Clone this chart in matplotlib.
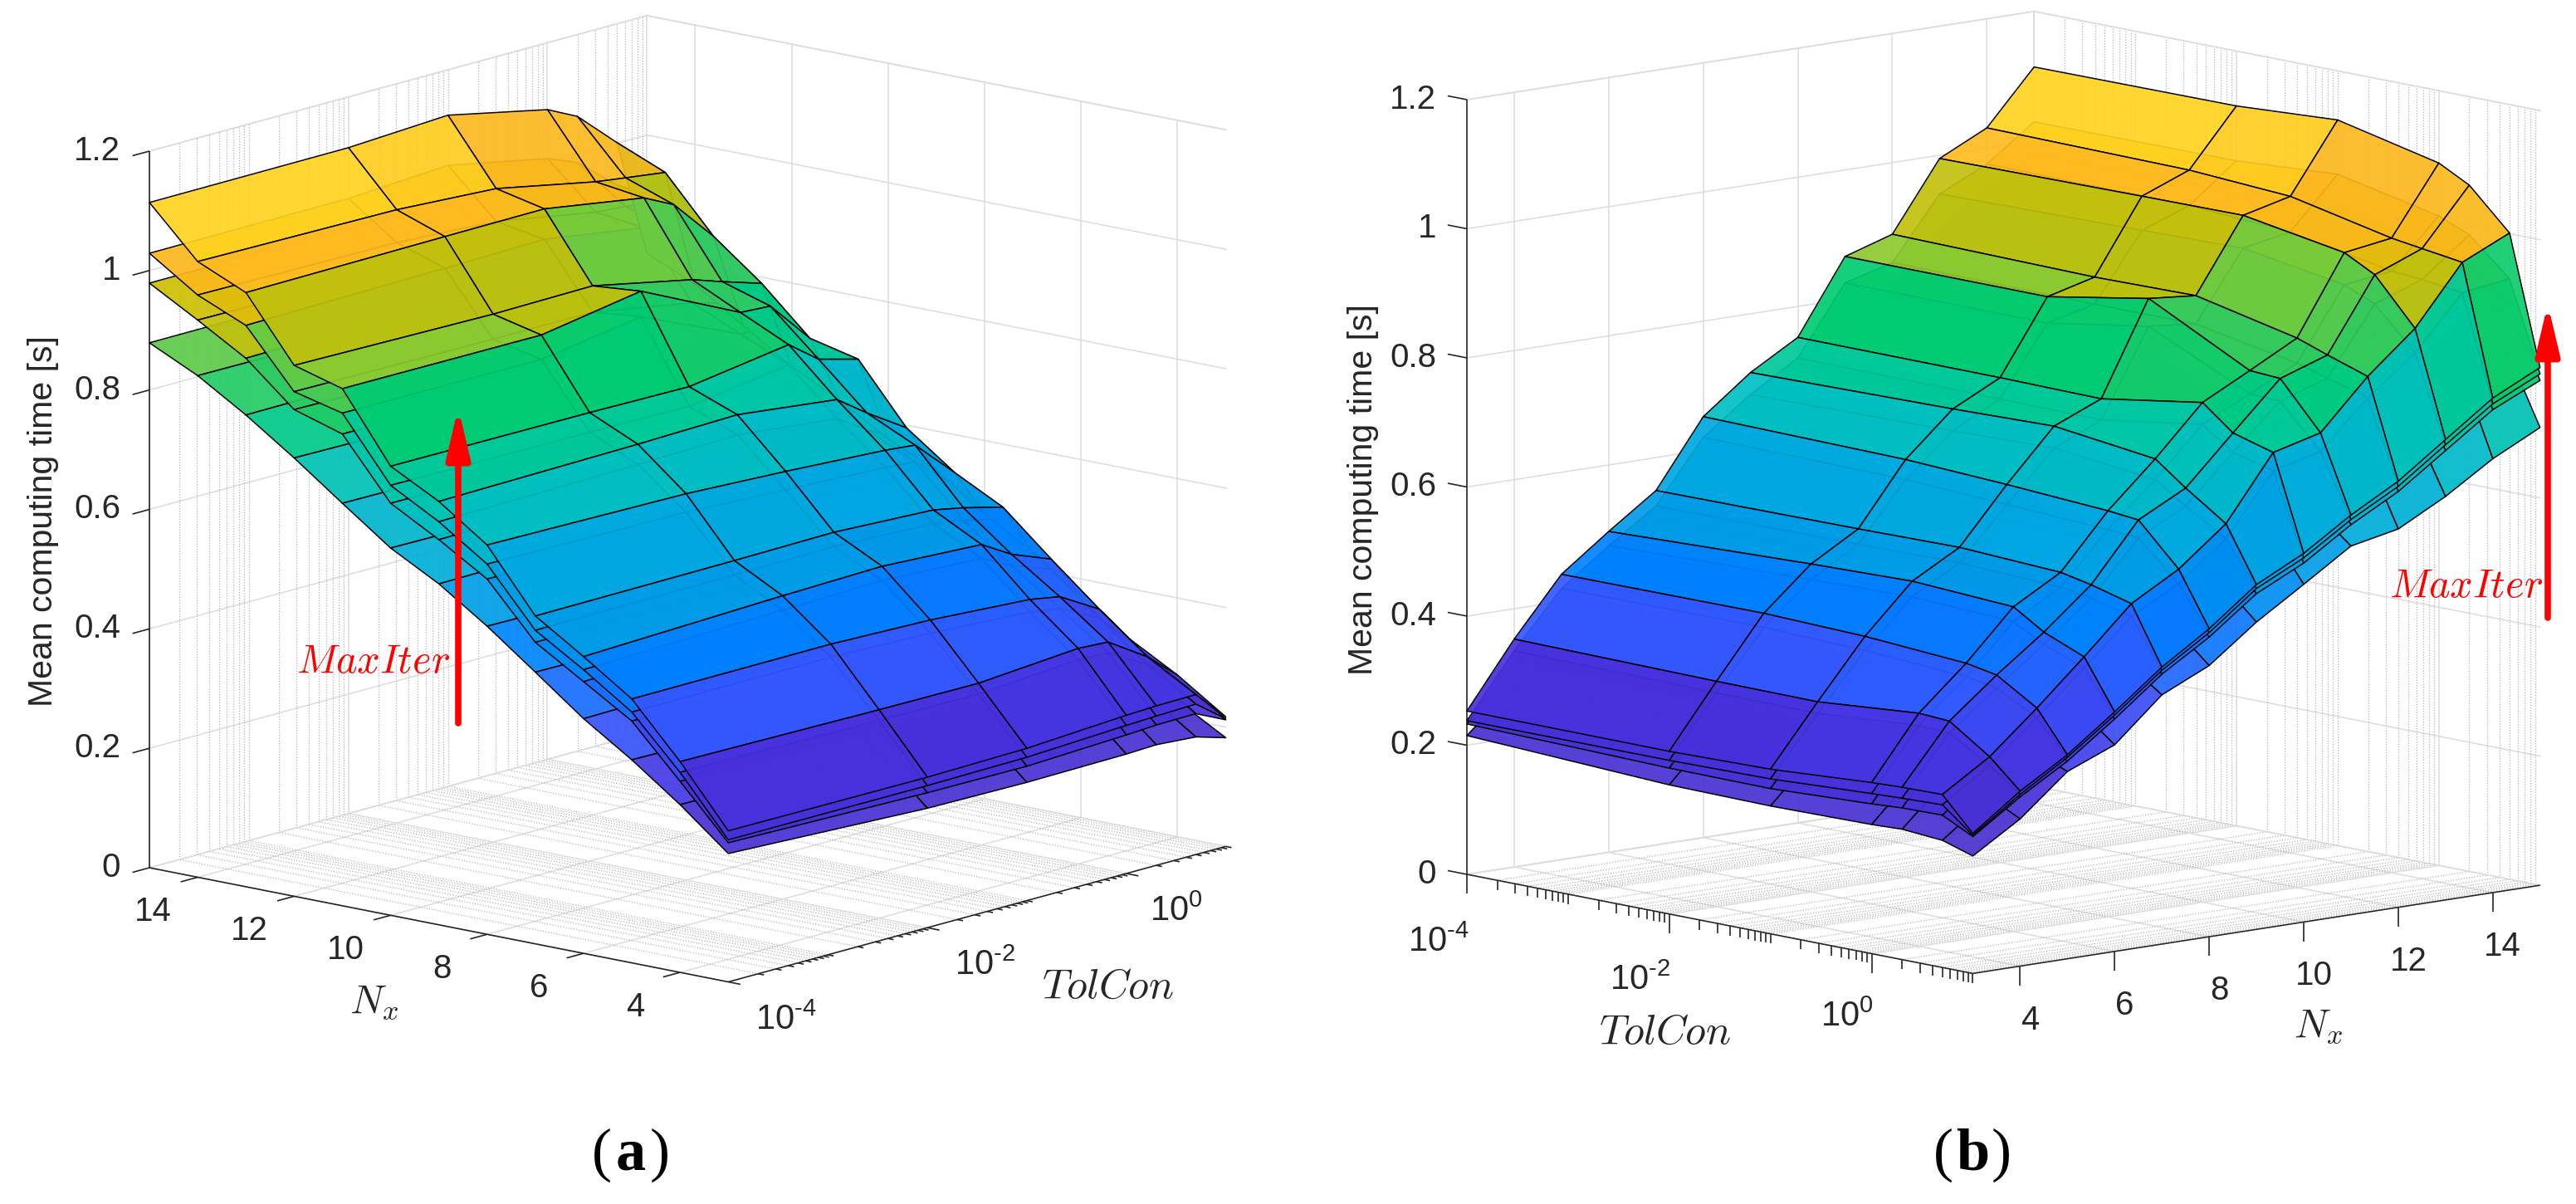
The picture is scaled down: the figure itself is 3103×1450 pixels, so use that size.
import numpy as np
import matplotlib
matplotlib.use('Agg')
import matplotlib.pyplot as plt
from matplotlib.colors import LinearSegmentedColormap, Normalize, to_rgb
from matplotlib.patches import FancyArrowPatch
from mpl_toolkits.mplot3d import proj3d

plt.rcParams['font.family'] = ['Liberation Sans', 'DejaVu Sans']
plt.rcParams['mathtext.fontset'] = 'cm'

W, H = 3103, 1450

nx_values = [3, 4, 5, 6, 7, 8, 9, 10, 11, 12, 13, 14, 15]
tolcon_exp = [-4, -2, -1, 0, 0.301, 0.699, 1]

surface_low = [
    [.215, .200, .198, .200, .202, .197, .182],
    [.281, .276, .272, .274, .272, .252, .228],
    [.340, .336, .332, .334, .328, .310, .290],
    [.393, .398, .400, .398, .380, .358, .320],
    [.455, .452, .454, .448, .438, .420, .386],
    [.516, .512, .508, .502, .496, .462, .420],
    [.571, .574, .576, .566, .546, .520, .476],
    [.615, .612, .610, .622, .600, .588, .523],
    [.674, .672, .688, .650, .646, .610, .571],
    [.734, .730, .732, .712, .702, .688, .586],
    [.790, .792, .794, .776, .762, .720, .625],
    [.840, .838, .830, .810, .804, .796, .672],
    [.879, .880, .886, .866, .850, .810, .709],
]
surface_mid1 = [
    [.233, .226, .225, .232, .235, .236, .212],
    [.320, .316, .315, .326, .324, .290, .262],
    [.405, .404, .400, .390, .384, .350, .306],
    [.455, .464, .468, .460, .436, .414, .360],
    [.505, .507, .508, .502, .494, .480, .418],
    [.595, .590, .584, .576, .572, .518, .464],
    [.645, .650, .654, .638, .608, .574, .520],
    [.690, .688, .686, .708, .676, .662, .556],
    [.790, .788, .812, .744, .742, .682, .604],
    [.815, .810, .812, .780, .766, .750, .644],
    [.885, .890, .892, .870, .852, .794, .696],
    [.933, .930, .920, .892, .888, .880, .748],
    [.979, .980, .988, .958, .940, .890, .782],
]
surface_mid2 = [
    [.238, .238, .240, .248, .250, .252, .214],
    [.335, .331, .330, .342, .340, .302, .266],
    [.420, .421, .416, .406, .398, .364, .312],
    [.475, .484, .488, .480, .454, .430, .366],
    [.525, .527, .529, .522, .514, .498, .424],
    [.620, .616, .608, .600, .596, .538, .471],
    [.675, .680, .684, .666, .634, .596, .528],
    [.720, .718, .716, .740, .706, .690, .564],
    [.825, .824, .850, .776, .774, .708, .612],
    [.845, .842, .842, .812, .798, .780, .652],
    [.940, .945, .948, .922, .902, .838, .705],
    [.975, .972, .962, .932, .928, .920, .757],
    [1.029, 1.030, 1.040, 1.006, .986, .930, .792],
]
surface_high = [
    [.253, .252, .255, .265, .267, .268, .217],
    [.353, .349, .348, .361, .358, .315, .271],
    [.442, .443, .438, .427, .418, .379, .316],
    [.497, .508, .512, .503, .473, .447, .371],
    [.549, .551, .553, .545, .535, .518, .429],
    [.652, .647, .639, .629, .624, .560, .477],
    [.709, .714, .718, .698, .662, .619, .534],
    [.752, .751, .749, .774, .736, .718, .571],
    [.866, .865, .893, .812, .809, .737, .619],
    [.889, .884, .886, .851, .834, .813, .660],
    [.995, .998, .999, .972, .947, .876, .713],
    [1.031, 1.027, 1.017, .983, .976, .967, .766],
    [1.114, 1.115, 1.124, 1.088, 1.063, 1.001, .802],
]
z_ticks = [0, .2, .4, .6, .8, 1, 1.2]
z_ticklabels = ['0', '0.2', '0.4', '0.6', '0.8', '1', '1.2']
nx_ticks = [4, 6, 8, 10, 12, 14]
tol_major = [-4, -2, 0]
tol_labels = [r'$10^{\text{-}4}$', r'$10^{\text{-}2}$', r'$10^{0}$']

cmap_z = [.15, .25, .35, .44, .50, .55, .65, .709, .752, .81, .866, .876, .93, .96, .995, 1.03, 1.2]
cmap_c = ['#4A30C8', '#4830DC', '#3358FF', '#0080FF', '#0098E8', '#00A8E0', '#00BFC0', '#00C8A0',
          '#00CC70', '#30CA60', '#8CCB30', '#C0C010', '#C8C000', '#F8B818', '#FFB820', '#FFD520', '#FFD800']
zn = Normalize(.15, 1.2)
cmap = LinearSegmentedColormap.from_list('surf', [(zn(a), to_rgb(c)) for a, c in zip(cmap_z, cmap_c)])

fig = plt.figure(figsize=(W / 100, H / 100), dpi=100, facecolor='white')
GRID = '#DCDCDC'
AXC = '#262626'
minor_t = [k + np.log10(m) for k in range(-4, 1) for m in range(2, 10)]
major_t = [-4, -3, -2, -1, 0, 1]


def make_axes(elev, azim, aspect, xlim, ylim, anchors):
    S = 1560
    ax = fig.add_axes([0, 0, S / W, S / H], projection='3d', proj_type='ortho', computed_zorder=False)
    ax.view_init(elev=elev, azim=azim)
    ax.set_xlim(*xlim)
    ax.set_ylim(*ylim)
    ax.set_zlim(0, 1.2)
    ax.set_axis_off()
    ax.patch.set_visible(False)

    def px(x, y, z):
        ax.apply_aspect()
        M = ax.get_proj()
        a, b, _ = proj3d.proj_transform(x, y, z, M)
        p = ax.transData.transform((a, b))
        return np.array([p[0], H - p[1]])

    ax.set_box_aspect(aspect, zoom=1)
    (c0, t0), (c1, t1) = anchors
    scale = abs(t1[1] - t0[1]) / abs(px(*c1)[1] - px(*c0)[1])
    ax.set_box_aspect(aspect, zoom=scale)
    d = np.array(t0) - px(*c0)
    ax.set_position([d[0] / W, -d[1] / H, S / W, S / H])
    return ax, px


def draw_panel(ax, px, wall_t, z_edge, tol_edge_n, nx_edge_t, ztick_dt, tick_mode,
               nx_off, tol_offs, zlab_x, ylab_xy, nx_lab, tol_lab):
    N0, N1 = 3, 15
    T0, T1 = -4, 1
    kw = dict(color=GRID, lw=1.1, zorder=0, clip_on=False)
    kd = dict(color='#B4B4B4', lw=.9, ls=(0, (1, 1.6)), zorder=0, clip_on=False)
    for z in z_ticks:
        ax.plot([N1, N1], [T0, T1], [z, z], **kw)
        ax.plot([N0, N1], [wall_t, wall_t], [z, z], **kw)
    for n in nx_ticks:
        ax.plot([n, n], [wall_t, wall_t], [0, 1.2], **kw)
        ax.plot([n, n], [T0, T1], [0, 0], **kw)
    for t in [-4, -2, 0]:
        ax.plot([N1, N1], [t, t], [0, 1.2], **kw)
        ax.plot([N0, N1], [t, t], [0, 0], **kw)
    for t in minor_t + [-3, -1]:
        ax.plot([N1, N1], [t, t], [0, 1.2], **kd)
        ax.plot([N0, N1], [t, t], [0, 0], **kd)
    ax.plot([N1, N1], [T0, T1], [1.2, 1.2], **kw)
    ax.plot([N0, N1], [wall_t, wall_t], [1.2, 1.2], **kw)
    ax.plot([N1, N1], [wall_t, wall_t], [0, 1.2], **kw)
    ax.plot([N1, N1], [T0, T1], [0, 0], **kw)
    ax.plot([N0, N1], [wall_t, wall_t], [0, 0], **kw)

    NN, TT = np.meshgrid(np.array(nx_values, float), np.array(tolcon_exp, float), indexing='ij')
    for i, s in enumerate([surface_low, surface_mid1, surface_mid2, surface_high]):
        Z = np.array(s)
        fc = cmap(zn(Z[:-1, 1:]))
        fc[..., 3] = .92
        surf = ax.plot_surface(NN, TT, Z, rstride=1, cstride=1, facecolors=fc, shade=False,
                               linewidth=1.1, antialiased=True, zorder=2 + i)
        surf.set_edgecolor('black')
        surf.set_linewidth(1.1)

    ka = dict(color=AXC, lw=1.2, zorder=1, clip_on=False, solid_capstyle='butt')
    ax.plot([z_edge[0]] * 2, [z_edge[1]] * 2, [0, 1.2], **ka)
    ax.plot([N0, N1], [nx_edge_t] * 2, [0, 0], **ka)
    ax.plot([tol_edge_n] * 2, [T0, T1], [0, 0], **ka)
    for z in z_ticks:
        ax.plot([z_edge[0]] * 2, [z_edge[1], z_edge[1] + ztick_dt], [z, z], **ka)
    if tick_mode == 'a':
        for n in nx_ticks:
            ax.plot([n, n], [nx_edge_t, nx_edge_t - .17], [0, 0], **ka)
        for t in major_t + minor_t:
            L = .25 if t in tol_major else .12
            ax.plot([tol_edge_n, tol_edge_n - L], [t, t], [0, 0], **ka)
    else:
        for n in nx_ticks:
            ax.plot([n, n], [nx_edge_t, nx_edge_t], [0, -.03], **ka)
        for t in major_t + minor_t:
            L = .03 if t in tol_major else .015
            ax.plot([tol_edge_n] * 2, [t, t], [0, -L], **ka)

    def label(x, y, s, **k):
        fig.text(x / W, 1 - y / H, s, **k)

    for z, lab in zip(z_ticks, z_ticklabels):
        p = px(z_edge[0], z_edge[1], z)
        label(zlab_x, p[1], lab, ha='right', va='center', fontsize=29, color=AXC)
    for n in nx_ticks:
        p = px(n, nx_edge_t, 0)
        label(p[0] + nx_off[0], p[1] + nx_off[1], str(n), ha='center', va='center', fontsize=29, color=AXC)
    for t, lab, off in zip(tol_major, tol_labels, tol_offs):
        p = px(tol_edge_n, t, 0)
        label(p[0] + off[0], p[1] + off[1], lab, ha='center', va='center', fontsize=30, color=AXC,
              math_fontfamily='custom')
    label(ylab_xy[0], ylab_xy[1], 'Mean computing time [s]', rotation=90, ha='center', va='center',
          fontsize=29.5, color=AXC)
    label(nx_lab[0], nx_lab[1], '$N_x$', ha='center', va='center', fontsize=35, color=AXC)
    label(tol_lab[0], tol_lab[1], '$TolCon$', ha='center', va='center', fontsize=36, color=AXC)


def red_arrow(x, y0, y1, txt_xy):
    fig.add_artist(FancyArrowPatch((x / W, 1 - y0 / H), (x / W, 1 - y1 / H), transform=fig.transFigure,
                                   arrowstyle='-|>,head_length=0.72,head_width=0.17', mutation_scale=50,
                                   lw=5.5, color='#FF0000', shrinkA=0, shrinkB=0, zorder=20))
    fig.text(txt_xy[0] / W, 1 - txt_xy[1] / H, '$MaxIter$', color='#FF0000', fontsize=35, ha='center',
             va='center', zorder=20)


plt.rcParams['mathtext.rm'] = 'Liberation Sans'
plt.rcParams['mathtext.it'] = 'Liberation Sans:italic'
plt.rcParams['mathtext.bf'] = 'Liberation Sans:bold'

axL, pxL = make_axes(13.4, -49.6, (916, 925, 887.5), (15, 3), (-4, 1),
                     (((15, -4, 0), (180, 1045)), ((15, -4, 1.2), (180, 182))))
draw_panel(axL, pxL, wall_t=1, z_edge=(15, -4), tol_edge_n=3, nx_edge_t=-4, ztick_dt=-.17,
           tick_mode='a', nx_off=(-54, 42), tol_offs=[(70, 46), (70, 46), (60, 46)], zlab_x=145,
           ylab_xy=(52, 628), nx_lab=(450, 1207), tol_lab=(1334, 1189))
axR, pxR = make_axes(10.05, 228.3, (917, 918, 949.5), (3, 15), (1, -4),
                     (((3, -4, 0), (1767, 1053)), ((3, -4, 1.2), (1767, 120))))
draw_panel(axR, pxR, wall_t=-4, z_edge=(3, -4), tol_edge_n=3, nx_edge_t=1, ztick_dt=-.19,
           tick_mode='b', nx_off=(12, 65), tol_offs=[(-34, 82), (-35, 80), (-30, 76)], zlab_x=1730,
           ylab_xy=(1642, 590), nx_lab=(2792, 1236), tol_lab=(2005, 1244))

red_arrow(552, 871, 491, (450, 798))
red_arrow(3069, 744, 366, (2971, 707))

for cx, tag in ((760, 'a'), (2376, 'b')):
    yy = 1 - 1391 / H
    fig.text(cx / W, yy, tag, family='Liberation Serif', weight='bold', fontsize=52, ha='center', va='center',
             color='black')
    fig.text((cx - 23) / W, yy, '(', family='Liberation Serif', fontsize=52, ha='right', va='center', color='black')
    fig.text((cx + 23) / W, yy, ')', family='Liberation Serif', fontsize=52, ha='left', va='center', color='black')

fig.savefig('out.png', dpi=100, facecolor='white')
